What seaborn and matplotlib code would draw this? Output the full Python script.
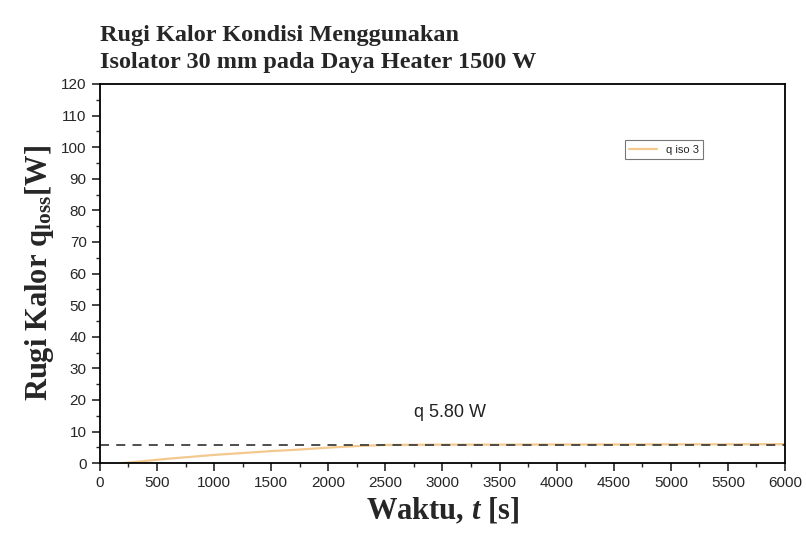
import numpy as np
import pandas as pd
import matplotlib
matplotlib.use('Agg')
import matplotlib.pyplot as plt
import seaborn as sns
from matplotlib.ticker import MultipleLocator

# data
waktu = [200, 400, 600, 800, 1000, 1250, 1500, 1750, 2000, 2250, 2500, 3000, 3500, 4000, 4500, 5000, 5500, 6000]
q_loss = [0.0, 0.7, 1.4, 2.0, 2.6, 3.2, 3.8, 4.3, 4.9, 5.4, 5.75, 5.85, 5.85, 5.9, 5.9, 5.95, 5.95, 6.0]
q_avg = 5.80

df = pd.DataFrame({'t': waktu, 'q': q_loss})

sns.set_style('white')
plt.rcParams['font.family'] = ['Liberation Sans', 'DejaVu Sans']
plt.rcParams['mathtext.fontset'] = 'custom'
plt.rcParams['mathtext.it'] = 'Liberation Serif:italic:bold'
plt.rcParams['mathtext.rm'] = 'Liberation Serif:bold'
plt.rcParams['mathtext.bf'] = 'Liberation Serif:bold'

fig = plt.figure(figsize=(8.06, 5.52), dpi=100)
ax = fig.add_axes([0.124, 0.161, 0.85, 0.687])

sns.lineplot(data=df, x='t', y='q', ax=ax, color='#f3c98e', linewidth=1.6, label='q iso 3')
ax.axhline(q_avg, color='#404040', linestyle=(0, (5, 4)), linewidth=1.3)
ax.text(2750, 14.5, f'q {q_avg:.2f} W', fontsize=13, color='#222222')

ax.set_xlim(0, 6000)
ax.set_ylim(0, 120)
ax.xaxis.set_major_locator(MultipleLocator(500))
ax.xaxis.set_minor_locator(MultipleLocator(250))
ax.yaxis.set_major_locator(MultipleLocator(10))
ax.yaxis.set_minor_locator(MultipleLocator(5))
ax.tick_params(which='major', direction='out', length=6, width=1.2, labelsize=11,
               bottom=True, left=True, top=False, right=False)
ax.tick_params(which='minor', direction='out', length=3, width=1,
               bottom=True, left=True, top=False, right=False)
for s in ax.spines.values():
    s.set_color('black')
    s.set_linewidth(1.3)

ax.set_xlabel(r'Waktu, $t$ [s]', fontfamily='Liberation Serif', fontweight='bold', fontsize=22)
ax.set_ylabel(r'Rugi Kalor q$_{\mathrm{loss}}$[W]', fontfamily='Liberation Serif', fontweight='bold', fontsize=22)

fig.text(0.124, 0.868, 'Rugi Kalor Kondisi Menggunakan\nIsolator 30 mm pada Daya Heater 1500 W',
         fontfamily='Liberation Serif', fontweight='bold', fontsize=17.5, linespacing=1.35, va='bottom')

leg = ax.legend(loc='center', bbox_to_anchor=(0.823, 0.826), fontsize=8, frameon=True,
                fancybox=False, handlelength=2.5, borderpad=0.4)
leg.get_frame().set_edgecolor('#555555')
leg.get_frame().set_linewidth(0.8)

fig.savefig('out.png', dpi=100)
